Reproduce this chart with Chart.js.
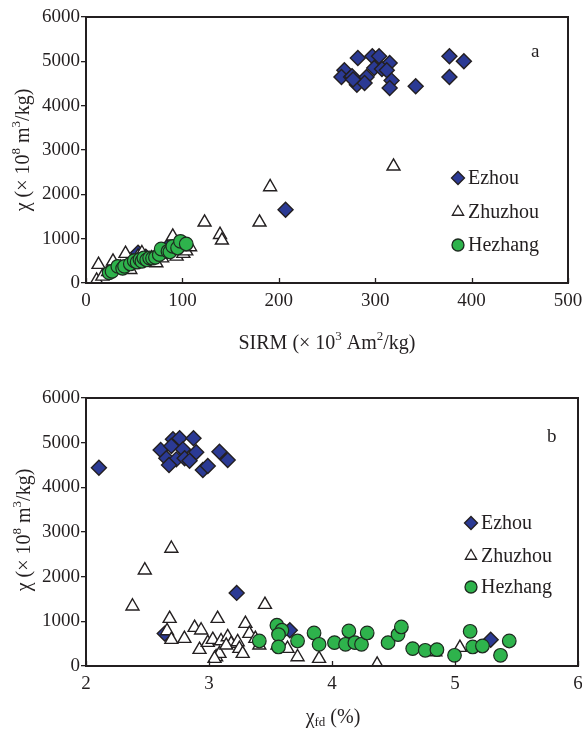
<!DOCTYPE html>
<html>
<head>
<meta charset="utf-8">
<script src="https://cdn.jsdelivr.net/npm/chart.js@4/dist/chart.umd.min.js"></script>
<style>
  html, body { margin: 0; padding: 0; background: #fff; }
  #wrap { position: relative; width: 582px; height: 733px; }
  .box { position: absolute; left: 0; width: 582px; }
</style>
</head>
<body>
<div id="wrap">
  <div class="box" style="top:0;height:366px"><canvas id="chartA" width="582" height="366"></canvas></div>
  <div class="box" style="top:366px;height:367px"><canvas id="chartB" width="582" height="367"></canvas></div>
</div>
<script>
// ---- data (a): chi vs SIRM
var sirmEzhou = [282, 297, 304, 315, 299, 307, 312, 268, 265, 275, 291, 317, 281, 289, 315, 342, 377, 392, 377, 276, 277, 207, 54, 84, 62];
var chiEzhouA = [5076, 5114, 5114, 4963, 4850, 4828, 4798, 4798, 4647, 4647, 4647, 4565, 4474, 4512, 4399, 4437, 5114, 5000, 4647, 4663, 4588, 1654, 680, 800, 590];

var sirmZhuzhou = [11, 13, 17, 23, 28, 31, 36, 41, 46, 49, 54, 58, 63, 68, 73, 79, 86, 90, 94, 101, 104, 108, 123, 139, 141, 180, 191, 319];
var chiZhuzhouA = [60, 414, 150, 250, 489, 300, 350, 662, 300, 480, 600, 677, 520, 560, 450, 560, 650, 1053, 600, 662, 720, 812, 1369, 1090, 963, 1369, 2166, 2632];

var sirmHezhang = [24, 27, 33, 38, 40, 46, 50, 53, 56, 58, 60, 63, 66, 69, 72, 76, 78, 85, 87, 90, 95, 98, 104];
var chiHezhangA = [230, 263, 376, 330, 376, 430, 504, 470, 530, 489, 564, 520, 564, 560, 579, 640, 767, 714, 700, 827, 790, 940, 880];

// ---- data (b): chi vs chi_fd
var fdEzhou = [2.105, 2.607, 2.707, 2.761, 2.874, 2.694, 2.788, 2.896, 2.653, 2.734, 2.802, 2.842, 2.675, 2.95, 2.99, 3.085, 3.152, 3.225, 2.64, 3.657, 5.29];
var chiEzhouB = [4440, 4836, 5075, 5097, 5097, 4925, 4850, 4783, 4649, 4626, 4649, 4597, 4499, 4387, 4477, 4798, 4611, 1637, 725, 800, 590];

var fdZhuzhou = [2.694, 2.478, 2.378, 3.455, 2.68, 3.07, 3.296, 2.883, 2.936, 2.659, 2.694, 2.80, 2.923, 2.99, 3.031, 3.098, 3.152, 3.18, 3.233, 3.247, 3.274, 3.058, 3.085, 3.328, 3.377, 3.409, 3.557, 3.638, 3.72, 3.895, 4.367, 4.84, 5.04, 3.045, 3.14];
var chiZhuzhouB = [2631, 2145, 1338, 1375, 1061, 1061, 949, 860, 800, 785, 590, 613, 366, 523, 590, 560, 650, 500, 538, 389, 277, 202, 277, 725, 613, 463, 463, 389, 202, 164, 37, 314, 411, 164, 463];

var fdHezhang = [3.552, 3.593, 3.565, 3.409, 3.565, 3.72, 3.854, 3.895, 4.02, 4.11, 4.137, 4.186, 4.24, 4.286, 4.456, 4.537, 4.564, 4.656, 4.758, 4.853, 4.996, 5.123, 5.144, 5.223, 5.37, 5.441];
var chiHezhangB = [912, 800, 703, 560, 426, 560, 740, 486, 523, 486, 785, 523, 486, 740, 523, 703, 874, 389, 351, 366, 239, 777, 426, 448, 239, 560];

var siteNames = ['Ezhou', 'Zhuzhou', 'Hezhang'];
var chiTicks = [0, 1000, 2000, 3000, 4000, 5000, 6000];

var FONT = '"Liberation Serif", "Times New Roman", serif';
var INK = '#231f20';

function pts(xs, ys) {
  return xs.map(function(x, i) { return { x: x, y: ys[i] }; });
}

function makeSets(e, z, h) {
  return [{
    label: siteNames[0], data: e, order: 3,
    pointStyle: 'rectRot', pointRadius: 7.5,
    backgroundColor: '#2b3a94', borderColor: INK, borderWidth: 1.4
  }, {
    label: siteNames[1], data: z, order: 2,
    pointStyle: 'triangle', pointRadius: 7.5,
    backgroundColor: '#ffffff', borderColor: INK, borderWidth: 1.4
  }, {
    label: siteNames[2], data: h, order: 1,
    pointStyle: 'circle', pointRadius: 6.8,
    backgroundColor: '#2eb34c', borderColor: '#1d2a1f', borderWidth: 1.2
  }];
}

// text with super/subscripts, centred on (cx,cy)
function richText(ctx, parts, cx, cy, size, rot) {
  ctx.save();
  ctx.translate(cx, cy);
  if (rot) ctx.rotate(rot);
  ctx.fillStyle = INK;
  ctx.textBaseline = 'middle';
  ctx.textAlign = 'left';
  var small = Math.round(size * 0.66);
  var total = 0;
  parts.forEach(function(p) {
    ctx.font = (p[1] === 'n' ? size : small) + 'px ' + FONT;
    total += ctx.measureText(p[0]).width;
  });
  var x = -total / 2;
  parts.forEach(function(p) {
    var sz = p[1] === 'n' ? size : small;
    ctx.font = sz + 'px ' + FONT;
    var dy = p[1] === 'sup' ? -size * 0.38 : (p[1] === 'sub' ? size * 0.25 : 0);
    ctx.fillText(p[0], x, dy);
    x += ctx.measureText(p[0]).width;
  });
  ctx.restore();
}

function marker(ctx, style, x, y, r, fill, stroke, lw) {
  ctx.save();
  ctx.beginPath();
  if (style === 'rectRot') {
    ctx.moveTo(x - r, y); ctx.lineTo(x, y - r); ctx.lineTo(x + r, y); ctx.lineTo(x, y + r);
    ctx.closePath();
  } else if (style === 'triangle') {
    for (var k = 0; k < 3; k++) {
      var a = k * 2 * Math.PI / 3;
      var px = x + Math.sin(a) * r, py = y - Math.cos(a) * r;
      if (k === 0) ctx.moveTo(px, py); else ctx.lineTo(px, py);
    }
    ctx.closePath();
  } else {
    ctx.arc(x, y, r, 0, Math.PI * 2);
  }
  ctx.fillStyle = fill; ctx.fill();
  ctx.lineWidth = lw; ctx.strokeStyle = stroke; ctx.stroke();
  ctx.restore();
}

// frame, inward x ticks, titles, legend, panel letter
var decor = {
  id: 'decor',
  afterDraw: function(chart, args, o) {
    var ctx = chart.ctx, a = chart.chartArea, xs = chart.scales.x;
    ctx.save();
    ctx.strokeStyle = INK;
    ctx.lineWidth = 1.3;
    xs.ticks.forEach(function(t) {
      var px = Math.round(xs.getPixelForValue(t.value)) + 0.5;
      ctx.beginPath(); ctx.moveTo(px, a.bottom); ctx.lineTo(px, a.bottom - 5); ctx.stroke();
    });
    ctx.lineWidth = 2;
    ctx.strokeRect(a.left, a.top, a.right - a.left, a.bottom - a.top);
    ctx.restore();

    richText(ctx, o.xTitle, o.xTitlePos[0], o.xTitlePos[1], 20, 0);
    richText(ctx, o.yTitle, o.yTitlePos[0], o.yTitlePos[1], 20, -Math.PI / 2);

    ctx.save();
    ctx.fillStyle = INK;
    ctx.font = '19px ' + FONT;
    ctx.textBaseline = 'middle';
    ctx.textAlign = 'left';
    ctx.fillText(o.letter, o.letterPos[0], o.letterPos[1]);
    ctx.font = '20px ' + FONT;
    chart.data.datasets.forEach(function(ds, i) {
      var y = o.legendY[i];
      var r = ds.pointStyle === 'circle' ? 6 : 6.5;
      marker(ctx, ds.pointStyle, o.legendX, y, r, ds.backgroundColor, ds.borderColor, 1.3);
      ctx.fillStyle = INK;
      ctx.fillText(ds.label, o.legendX + 10, y + 1);
    });
    ctx.restore();
  }
};

function baseOptions(xmin, xmax, xstep, padRight, padTop, xHeight, deco) {
  return {
    responsive: false,
    animation: false,
    devicePixelRatio: 1,
    layout: { autoPadding: false, padding: { left: 0, right: padRight, top: padTop, bottom: 0 } },
    plugins: { legend: { display: false }, tooltip: { enabled: false }, decor: deco },
    scales: {
      x: {
        type: 'linear', min: xmin, max: xmax,
        afterFit: function(s) { s.height = xHeight; s.paddingLeft = 0; s.paddingRight = 0; },
        border: { display: false },
        grid: { display: false, drawTicks: false, tickLength: 0 },
        ticks: { stepSize: xstep, padding: 7, color: INK, font: { family: FONT, size: 19 },
                 callback: function(v) { return String(v); } }
      },
      y: {
        type: 'linear', min: chiTicks[0], max: chiTicks[chiTicks.length - 1],
        afterFit: function(s) { s.width = 86; s.paddingTop = 0; s.paddingBottom = 0; },
        afterBuildTicks: function(s) { s.ticks = chiTicks.map(function(v) { return { value: v }; }); },
        border: { display: false },
        grid: { drawOnChartArea: false, tickLength: 5, color: INK, lineWidth: 1.3 },
        ticks: { padding: 1, color: INK, font: { family: FONT, size: 19 },
                 callback: function(v) { return String(v); } }
      }
    }
  };
}

var yTitleParts = [['\u03c7 (\u00d7 10', 'n'], ['8', 'sup'], [' m', 'n'], ['3', 'sup'], ['/kg)', 'n']];

function draw() {
  new Chart(document.getElementById('chartA'), {
    type: 'scatter',
    data: { datasets: makeSets(pts(sirmEzhou, chiEzhouA), pts(sirmZhuzhou, chiZhuzhouA), pts(sirmHezhang, chiHezhangA)) },
    options: baseOptions(0, 500, 100, 14, 17, 83, {
      xTitle: [['SIRM (\u00d7 10', 'n'], ['3', 'sup'], [' Am', 'n'], ['2', 'sup'], ['/kg)', 'n']],
      xTitlePos: [327, 344],
      yTitle: yTitleParts,
      yTitlePos: [24, 150],
      letter: 'a', letterPos: [531, 52],
      legendX: 458, legendY: [178, 212, 245]
    }),
    plugins: [decor]
  });

  new Chart(document.getElementById('chartB'), {
    type: 'scatter',
    data: { datasets: makeSets(pts(fdEzhou, chiEzhouB), pts(fdZhuzhou, chiZhuzhouB), pts(fdHezhang, chiHezhangB)) },
    options: baseOptions(2, 6, 1, 4, 32, 67, {
      xTitle: [['\u03c7', 'n'], ['fd', 'sub'], [' (%)', 'n']],
      xTitlePos: [333, 352],
      yTitle: yTitleParts,
      yTitlePos: [25, 164],
      letter: 'b', letterPos: [547, 71],
      legendX: 471, legendY: [157, 190, 221]
    }),
    plugins: [decor]
  });
}

if (document.fonts && document.fonts.load) {
  Promise.all([
    document.fonts.load('20px "Liberation Serif"'),
    document.fonts.load('italic 20px "Liberation Serif"')
  ]).then(draw, draw);
} else {
  draw();
}
</script>
</body>
</html>
